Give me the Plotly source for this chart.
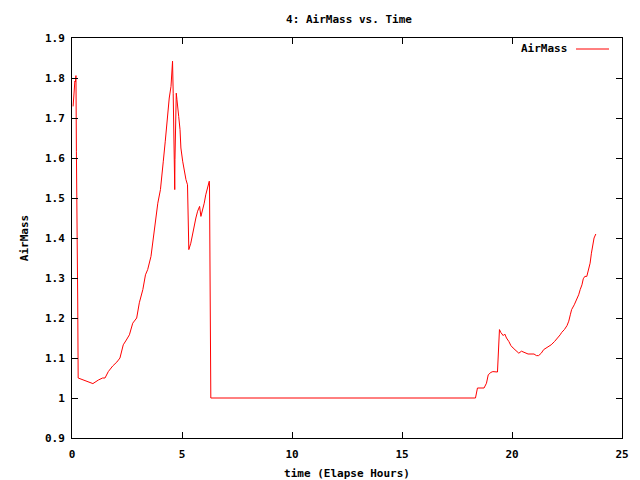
import plotly.graph_objects as go

hours = [0.05, 0.09, 0.13, 0.15, 0.18, 0.2, 0.23, 0.26, 0.28, 0.5, 0.7, 0.95, 1.2, 1.39, 1.5, 1.65, 1.85, 2.04, 2.18, 2.33, 2.47, 2.61, 2.76, 2.94, 3.06, 3.22, 3.34, 3.44, 3.59, 3.71, 3.82, 3.9, 4.02, 4.09, 4.15, 4.24, 4.33, 4.42, 4.5, 4.54, 4.57, 4.6, 4.64, 4.67, 4.68, 4.71, 4.74, 4.77, 4.8, 4.85, 4.91, 4.95, 5.03, 5.1, 5.18, 5.25, 5.27, 5.31, 5.4, 5.48, 5.56, 5.63, 5.71, 5.8, 5.86, 5.93, 6.01, 6.08, 6.16, 6.24, 6.25, 6.27, 6.31, 10.0, 15.0, 18.34, 18.43, 18.73, 18.84, 18.92, 19.04, 19.13, 19.34, 19.37, 19.4, 19.43, 19.49, 19.6, 19.67, 19.75, 19.86, 19.95, 20.05, 20.2, 20.31, 20.43, 20.58, 20.73, 21.0, 21.11, 21.21, 21.33, 21.44, 21.56, 21.66, 21.78, 21.93, 22.08, 22.19, 22.26, 22.38, 22.5, 22.58, 22.65, 22.71, 22.83, 22.94, 23.03, 23.1, 23.18, 23.24, 23.31, 23.4, 23.46, 23.55, 23.61, 23.67, 23.73, 23.81]
airmass = [1.729, 1.771, 1.792, 1.79, 1.806, 1.617, 1.241, 1.24, 1.05, 1.045, 1.04, 1.036, 1.045, 1.05, 1.05, 1.066, 1.08, 1.09, 1.10, 1.133, 1.145, 1.158, 1.187, 1.2, 1.238, 1.271, 1.308, 1.321, 1.354, 1.404, 1.454, 1.487, 1.521, 1.554, 1.592, 1.642, 1.70, 1.75, 1.779, 1.821, 1.842, 1.762, 1.604, 1.521, 1.596, 1.696, 1.762, 1.746, 1.721, 1.704, 1.671, 1.625, 1.592, 1.567, 1.546, 1.533, 1.45, 1.371, 1.387, 1.412, 1.429, 1.45, 1.467, 1.479, 1.454, 1.467, 1.487, 1.508, 1.525, 1.542, 1.53, 1.271, 1.0, 1.0, 1.0, 1.0, 1.025, 1.025, 1.037, 1.058, 1.064, 1.066, 1.065, 1.092, 1.146, 1.171, 1.164, 1.156, 1.160, 1.150, 1.141, 1.131, 1.125, 1.118, 1.112, 1.117, 1.114, 1.110, 1.110, 1.106, 1.106, 1.112, 1.121, 1.125, 1.127, 1.133, 1.141, 1.15, 1.158, 1.164, 1.171, 1.181, 1.192, 1.208, 1.221, 1.233, 1.246, 1.258, 1.271, 1.283, 1.298, 1.304, 1.304, 1.317, 1.337, 1.362, 1.383, 1.4, 1.41]

x_ticks = [0, 5, 10, 15, 20, 25]
y_ticks = [0.9, 1.0, 1.1, 1.2, 1.3, 1.4, 1.5, 1.6, 1.7, 1.8, 1.9]
y_tick_text = ["0.9", "1", "1.1", "1.2", "1.3", "1.4", "1.5", "1.6", "1.7", "1.8", "1.9"]

FONT = "DejaVu Sans Mono"
L, R, T, B = 72, 18, 38, 42
PW, PH = 640 - L - R, 480 - T - B

fig = go.Figure()
fig.add_trace(go.Scatter(x=hours, y=airmass, mode="lines", name="AirMass",
                         line=dict(color="#ff0000", width=1), showlegend=False))

axis_common = dict(showline=True, linecolor="black", linewidth=1, mirror="allticks",
                   ticks="inside", ticklen=6, tickcolor="black", tickwidth=1,
                   showgrid=False, zeroline=False, automargin=False,
                   tickfont=dict(family=FONT, size=11, color="black", weight="bold"))

fig.update_layout(
    width=640, height=480,
    margin=dict(l=L, r=R, t=T, b=B, autoexpand=False),
    paper_bgcolor="white", plot_bgcolor="white",
    title=dict(text="4: AirMass vs. Time", x=349/640, xanchor="center", y=1-19/480, yanchor="middle",
               font=dict(family=FONT, size=11, color="black", weight="bold")),
    xaxis=dict(range=[0, 25], tickvals=x_ticks, ticklabelstandoff=6,
               title=dict(text="time (Elapse Hours)", standoff=11,
                          font=dict(family=FONT, size=11, color="black", weight="bold")),
               **axis_common),
    yaxis=dict(range=[0.9, 1.9], tickvals=y_ticks, ticktext=y_tick_text, ticklabelstandoff=4,
               title=dict(text="AirMass", standoff=14,
                          font=dict(family=FONT, size=11, color="black", weight="bold")),
               **axis_common),
    showlegend=False,
)

fig.add_annotation(text="AirMass", xref="paper", yref="paper", x=(569-L)/PW, y=1-(49-T)/PH,
                   xanchor="right", yanchor="middle", showarrow=False,
                   font=dict(family=FONT, size=11, color="black", weight="bold"))
fig.add_shape(type="line", xref="paper", yref="paper", x0=(576-L)/PW, x1=(609-L)/PW,
              y0=1-(49-T)/PH, y1=1-(49-T)/PH, line=dict(color="#ff0000", width=1))

fig.write_html("out.html")
